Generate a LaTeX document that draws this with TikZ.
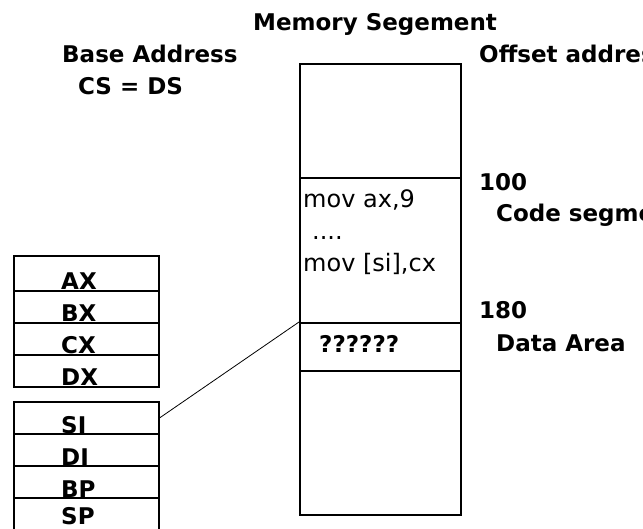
\documentclass[tikz,border=0pt]{standalone}
\usepackage{fontspec}
\setmainfont{DejaVu Sans}
\begin{document}
\begin{tikzpicture}[x=1pt,y=-1pt,
   txt/.style={anchor=base west,inner sep=0pt,font=\fontsize{23}{27}\selectfont\bfseries},
   instr/.style={anchor=base west,inner sep=0pt,font=\fontsize{24}{28}\selectfont},
   cell/.style={draw,rectangle,inner sep=0pt,line width=1.7pt,anchor=north west},
   memcell/.style={cell,minimum width=161pt},
   regcell/.style={cell,minimum width=145pt,minimum height=32pt}]
   \useasboundingbox (0,0) rectangle (643,529);

   % headings
   \node[txt] (title) at (253,31) {Memory Segement};
   \node[txt] (base) at (62,63) {Base Address};
   \node[txt] (csds) at (78,95) {CS = DS};
   \node[txt] (offset) at (479,63) {Offset address};

   % memory segment
   \node[memcell,minimum height=114pt] (free) at (299,63) {};
   \node[memcell,minimum height=145pt] (code) at (299,177) {};
   \node[memcell,minimum height=48pt] (data) at (299,322) {};
   \node[memcell,minimum height=144pt] (rest) at (299,370) {};

   \node[instr] (movax) at (303,208) {mov ax,9};
   \node[instr] (dots) at (312,240) {....};
   \node[instr] (movsi) at (303,272) {mov [si],cx};
   \node[txt] (qmarks) at (319,353) {??????};

   % offsets
   \node[txt] (off100) at (479,191) {100};
   \node[txt] (codelbl) at (496,222) {Code segment};
   \node[txt] (off180) at (479,319) {180};
   \node[txt] (datalbl) at (496,352) {Data Area};

   % general registers
   \node[regcell,minimum height=35pt] (ax) at (13,255) {};
   \node[regcell] (bx) at (13,290) {};
   \node[regcell] (cx) at (13,322) {};
   \node[regcell] (dx) at (13,354) {};
   \node[txt] (axlbl) at (61,290) {AX};
   \node[txt] (bxlbl) at (61,322) {BX};
   \node[txt] (cxlbl) at (61,354) {CX};
   \node[txt] (dxlbl) at (61,386) {DX};

   % index and pointer registers
   \node[regcell] (si) at (13,401) {};
   \node[regcell] (di) at (13,433) {};
   \node[regcell] (bp) at (13,465) {};
   \node[regcell,minimum height=36pt] (sp) at (13,497) {};
   \node[txt] (silbl) at (61,433) {SI};
   \node[txt] (dilbl) at (61,465) {DI};
   \node[txt] (bplbl) at (61,497) {BP};
   \node[txt] (splbl) at (61,524) {SP};

   \draw[line width=0.8pt] (si.east) -- (data.north west);
\end{tikzpicture}
\end{document}
